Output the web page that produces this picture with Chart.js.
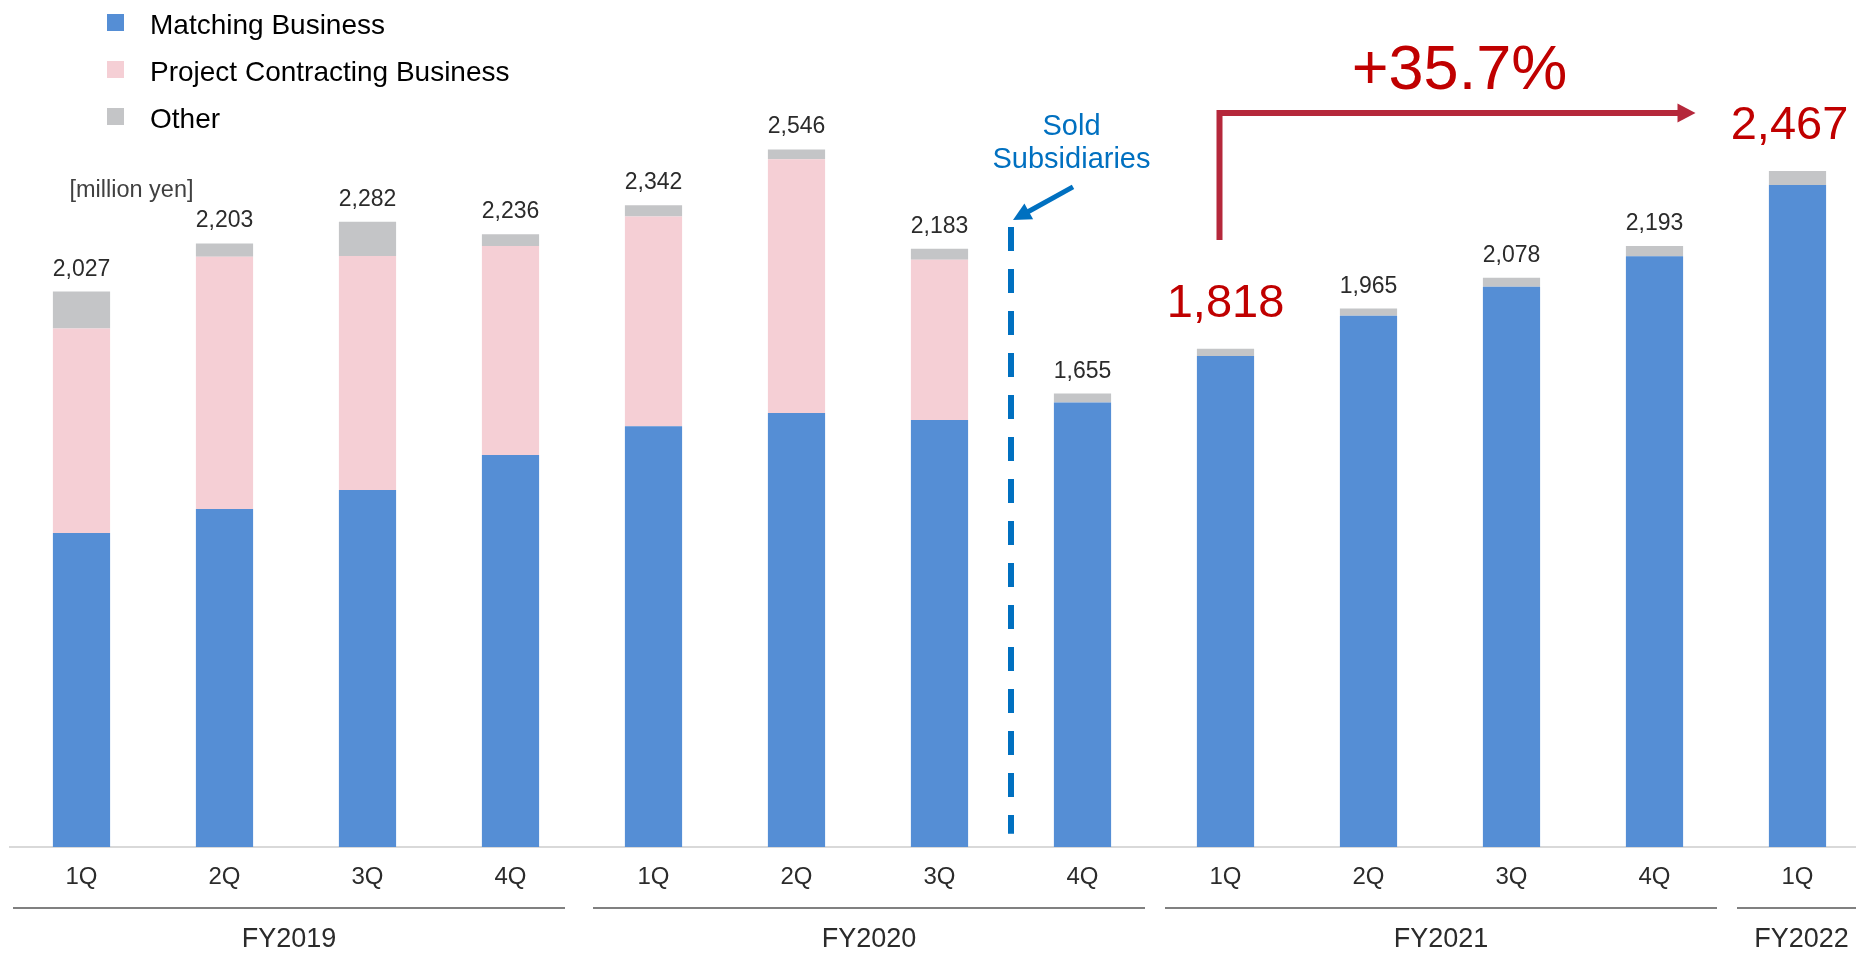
<!DOCTYPE html>
<html><head><meta charset="utf-8">
<script src="https://cdn.jsdelivr.net/npm/chart.js@4.4.1/dist/chart.umd.min.js"></script>
<style>
html,body{margin:0;padding:0;background:#fff;overflow:hidden;}
#wrap{position:relative;width:1869px;height:953px;}
</style></head><body>
<div id="wrap"><canvas id="c" width="1869" height="953"></canvas></div>
<script>
// ---- data ----
const quarters = ['1Q','2Q','3Q','4Q','1Q','2Q','3Q','4Q','1Q','2Q','3Q','4Q','1Q'];
const fiscalYears = ['FY2019','FY2020','FY2021','FY2022'];
const quartersPerYear = [4, 4, 4, 1];
const matching = [1146, 1234, 1303, 1431, 1536, 1584, 1558, 1622, 1792, 1939, 2045, 2156, 2416];
const projectContracting = [746, 920, 854, 762, 765, 926, 585, 0, 0, 0, 0, 0, 0];
const other = [135, 49, 125, 43, 41, 36, 40, 33, 26, 26, 33, 37, 51];
const seriesNames = ['Matching Business', 'Project Contracting Business', 'Other'];
const highlighted = [8, 12];
const growthLabel = '+35.7%';
const unitLabel = '[million yen]';
const soldNote = ['Sold', 'Subsidiaries'];

// ---- styles ----
const FONT = "'Liberation Sans', Arial, Helvetica, sans-serif";
const colors = ['#558ed5', '#f5cfd5', '#c4c5c7'];
const TEXT = '#2b2b2b';
const RED = '#c00000';
const ARROW_RED = '#b5283b';
const BLUE_NOTE = '#0070c0';

const totals = quarters.map((_, i) => matching[i] + projectContracting[i] + other[i]);

function arrowHead(ctx, x, y, ang, len, half, color) {
  ctx.save();
  ctx.translate(x, y); ctx.rotate(ang);
  ctx.beginPath();
  ctx.moveTo(0, 0); ctx.lineTo(-len, -half); ctx.lineTo(-len, half); ctx.closePath();
  ctx.fillStyle = color; ctx.fill();
  ctx.restore();
}

const overlay = {
  id: 'overlay',
  afterDatasetsDraw(chart) {
    const {ctx, scales: {x, y}, chartArea} = chart;
    const cat = x.width / quarters.length;
    ctx.save();
    // total labels
    ctx.textAlign = 'center';
    ctx.textBaseline = 'alphabetic';
    totals.forEach((t, i) => {
      const px = x.getPixelForValue(i);
      const py = y.getPixelForValue(t);
      const txt = t.toLocaleString('en-US');
      if (highlighted.includes(i)) {
        ctx.font = `47px ${FONT}`; ctx.fillStyle = RED;
        ctx.fillText(txt, px - (i === quarters.length - 1 ? 8 : 0), py - 32);
      } else {
        ctx.font = `23px ${FONT}`; ctx.fillStyle = TEXT;
        ctx.fillText(txt, px, py - 16);
      }
    });

    // unit label
    ctx.font = `23.5px ${FONT}`; ctx.fillStyle = '#404040'; ctx.textAlign = 'center';
    ctx.fillText(unitLabel, x.getPixelForValue(0) + 50, y.getPixelForValue(2372));

    // legend
    ctx.textAlign = 'left'; ctx.textBaseline = 'alphabetic';
    ctx.font = `28px ${FONT}`;
    chart.data.datasets.forEach((ds, k) => {
      const base = 34 + k * 47;
      ctx.fillStyle = ds.backgroundColor;
      ctx.fillRect(107, base - 20, 17, 17);
      ctx.fillStyle = '#000';
      ctx.fillText(ds.label, 150, base);
    });

    // sold subsidiaries dashed divider
    const xs = (x.getPixelForValue(6) + x.getPixelForValue(7)) / 2;
    ctx.strokeStyle = BLUE_NOTE; ctx.lineWidth = 6; ctx.setLineDash([24, 18]);
    ctx.beginPath();
    ctx.moveTo(xs, y.getPixelForValue(2263)); ctx.lineTo(xs, y.getPixelForValue(48));
    ctx.stroke(); ctx.setLineDash([]);
    // note text
    const nx = x.getPixelForValue(7) - 11;
    ctx.fillStyle = BLUE_NOTE; ctx.font = `29px ${FONT}`; ctx.textAlign = 'center'; ctx.textBaseline = 'alphabetic';
    ctx.fillText(soldNote[0], nx, y.getPixelForValue(2599));
    ctx.fillText(soldNote[1], nx, y.getPixelForValue(2478));
    // note arrow
    const ax0 = xs + 62, ay0 = y.getPixelForValue(2409);
    const ax1 = xs + 2, ay1 = y.getPixelForValue(2288);
    const ang = Math.atan2(ay1 - ay0, ax1 - ax0);
    ctx.lineWidth = 5; ctx.beginPath();
    ctx.moveTo(ax0, ay0); ctx.lineTo(ax1 - 12 * Math.cos(ang), ay1 - 12 * Math.sin(ang)); ctx.stroke();
    arrowHead(ctx, ax1, ay1, ang, 18, 9, BLUE_NOTE);

    // growth arrow
    const gx0 = x.getPixelForValue(highlighted[0]) - 6;
    const gx1 = x.getPixelForValue(highlighted[1]) - 102;
    const gyb = y.getPixelForValue(2215), gyt = y.getPixelForValue(2679);
    ctx.strokeStyle = ARROW_RED; ctx.lineWidth = 6; ctx.lineJoin = 'miter';
    ctx.beginPath();
    ctx.moveTo(gx0, gyb); ctx.lineTo(gx0, gyt); ctx.lineTo(gx1 - 14, gyt); ctx.stroke();
    arrowHead(ctx, gx1, gyt, 0, 18, 9.5, ARROW_RED);
    ctx.fillStyle = RED; ctx.font = `63px ${FONT}`; ctx.textAlign = 'center';
    ctx.fillText(growthLabel, (gx0 + gx1) / 2 + 2, y.getPixelForValue(2766));

    // fiscal year group lines and labels
    let start = 0;
    const lineY = chartArea.bottom + 61;
    quartersPerYear.forEach((n, g) => {
      const l = x.getPixelForValue(start) - cat / 2 + (g === 0 ? 3 : 11);
      const r = x.getPixelForValue(start + n - 1) + cat / 2 - (g === 0 ? 17 : 9);
      ctx.strokeStyle = '#808080'; ctx.lineWidth = 2;
      ctx.beginPath(); ctx.moveTo(l, lineY); ctx.lineTo(r, lineY); ctx.stroke();
      ctx.fillStyle = TEXT; ctx.font = `27px ${FONT}`; ctx.textAlign = 'center'; ctx.textBaseline = 'middle';
      const cx = g === quartersPerYear.length - 1 ? x.getPixelForValue(start) + 4 : (l + r) / 2;
      ctx.fillText(fiscalYears[g], cx, lineY + 32);
      start += n;
    });
    ctx.restore();
  }
};

new Chart(document.getElementById('c'), {
  type: 'bar',
  data: {
    labels: quarters,
    datasets: [
      {label: seriesNames[0], data: matching, backgroundColor: colors[0]},
      {label: seriesNames[1], data: projectContracting, backgroundColor: colors[1]},
      {label: seriesNames[2], data: other, backgroundColor: colors[2]}
    ]
  },
  options: {
    responsive: false,
    animation: false,
    datasets: {bar: {categoryPercentage: 1, barPercentage: 0.4, borderWidth: 0}},
    layout: {padding: {left: 10, right: 0, top: 25, bottom: 0}},
    plugins: {legend: {display: false}, tooltip: {enabled: false}},
    scales: {
      x: {
        stacked: true, offset: true,
        grid: {display: false, drawTicks: false},
        border: {display: true, color: '#d9d9d9', width: 2},
        ticks: {font: {family: FONT, size: 24}, color: TEXT, padding: 16, maxRotation: 0, autoSkip: false},
        afterFit(s) { s.height = 106; }
      },
      y: {stacked: true, display: false, min: 0, max: 3000}
    }
  },
  plugins: [overlay]
});
</script>
</body></html>
